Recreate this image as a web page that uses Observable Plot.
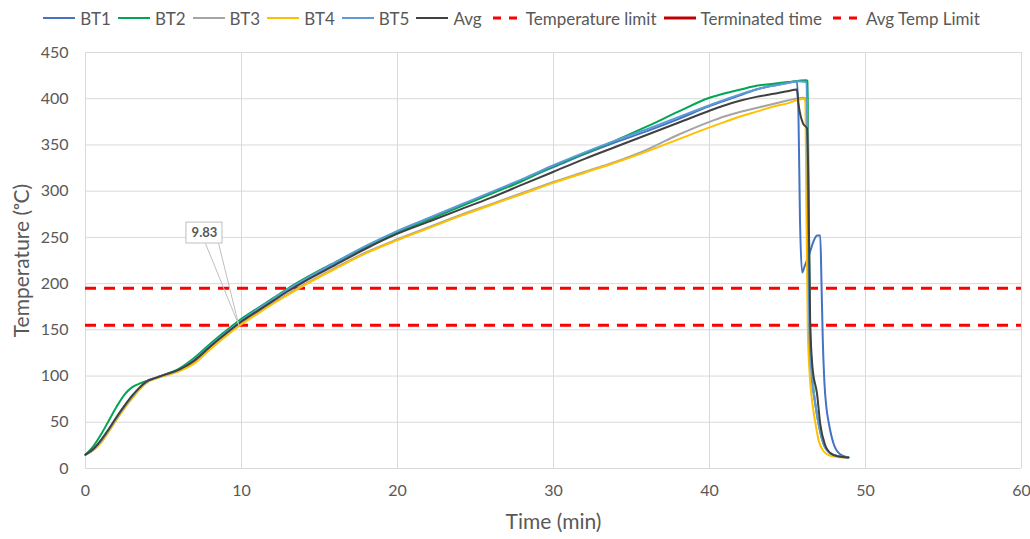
<!DOCTYPE html>
<html>
<head>
<meta charset="utf-8">
<script src="https://cdn.jsdelivr.net/npm/d3@7"></script>
<script src="https://cdn.jsdelivr.net/npm/@observablehq/plot@0.6"></script>
<style>
  html, body { margin: 0; padding: 0; background: #fff; }
  #legend { height: 36px; display: flex; justify-content: center; align-items: center;
            font-family: Lato, "Open Sans", sans-serif; font-size: 17px; color: #595959; }
  .item { display: flex; align-items: center; margin-right: 7px; }
  .item svg { margin-right: 5px; }
</style>
</head>
<body>
<div id="legend"></div>
<div id="chart"></div>
<script>
// ---- data ----
const seriesNames = ["BT1", "BT2", "BT3", "BT4", "BT5", "Avg"];
const seriesColors = ["#4472C4", "#00A651", "#A5A5A5", "#FFC000", "#5B9BD5", "#404040"];

const tRise = [0,0.5,1,1.5,2,2.5,3,3.5,4,4.5,5,6,7,8,9,10,11,12,13,14,16,18,20,22,24,26,28,30,32,34,36,38,40,41,42,43,44,45];

const bt1Rise = [15,20,29,41,54,66,77,87,94,98,101,107,117,132,146,159,171,182,193,203,222,240,256,270,284,298,312,326,340,353,365,378,392,398,404,410,414,417];
const bt2Rise = [15,24,37,52,67,80,88,92,95,98,101,108,120,135,149,162,173,184,195,205,223,240,255,269,283,297,311,327,341,355,370,386,401,406,410,414,416,418];
const bt3Rise = [15,20,29,41,54,66,77,87,94,98,100,106,115,130,144,157,168,179,189,199,217,234,248,261,274,286,298,310,321,332,345,361,375,381,386,390,394,398];
const bt4Rise = [15,20,28,40,53,65,76,86,94,97,100,105,114,129,143,156,167,178,188,198,216,233,247,260,273,285,297,309,320,331,343,356,369,375,381,386,391,395];
const bt5Rise = [15,21,30,42,55,67,78,88,95,98,101,107,118,133,147,160,172,183,194,204,223,241,257,271,285,299,313,328,342,355,367,380,393,399,405,410,414,417];
const avgRise = [15,21,31,43,56,68,79,88,95,98,101,107,117,132,146,159,170,181,192,202,220,238,254,267,280,293,307,321,335,348,361,374,387,393,398,402,405,408];

const bt1TailT = [45.6,45.7,45.8,45.94,46.1,46.4,46.7,46.9,47.1,47.18,47.26,47.36,47.5,47.65,47.95,48.4,48.9];
const bt1TailV = [419,385,270,212,219,232,247,252,252,200,140,95,65,49,27,15,12];
const bt2TailT = [46.2,46.28,46.35,46.45,46.6,46.8,47.0,47.3,47.7,48.3,48.9];
const bt2TailV = [420,419,300,150,100,68,48,27,17,13,12];
const bt3TailT = [46.0,46.25,46.33,46.43,46.58,46.8,47.0,47.3,47.7,48.3,48.9];
const bt3TailV = [401,399,300,150,100,68,47,27,17,13,12];
const bt4TailT = [46.05,46.15,46.2,46.3,46.45,46.6,46.8,47.0,47.3,47.7,48.2,48.6];
const bt4TailV = [400,396,300,150,95,70,48,30,19,14,12.5,12];
const bt5TailT = [45.6,46.22,46.3,46.4,46.55,46.8,47.0,47.3,47.7,48.3,48.9];
const bt5TailV = [419,418,300,150,100,68,48,27,17,13,12];
const avgTailT = [45.6,45.7,46.0,46.25,46.32,46.45,46.6,46.9,47.1,47.4,47.8,48.3,48.9];
const avgTailV = [410,395,373,368,330,160,110,80,48,26,16,13,12];

const temperatureLimit = [195];
const avgTempLimit = [155];

const calloutText = "9.83";
const calloutPoint = {t: 9.83, v: 155};
const calloutBox = {t1: 6.47, t2: 8.78, v1: 243.4, v2: 266};
const calloutStem = [7.69, 8.53];

const xTicks = [0,10,20,30,40,50,60];
const yTicks = [0,50,100,150,200,250,300,350,400,450];

// ---- build rows ----
const rises = [bt1Rise, bt2Rise, bt3Rise, bt4Rise, bt5Rise, avgRise];
const tailsT = [bt1TailT, bt2TailT, bt3TailT, bt4TailT, bt5TailT, avgTailT];
const tailsV = [bt1TailV, bt2TailV, bt3TailV, bt4TailV, bt5TailV, avgTailV];
const seriesRows = seriesNames.map((name, i) => {
  const rows = tRise.map((t, j) => ({t, v: rises[i][j]}));
  tailsT[i].forEach((t, j) => rows.push({t, v: tailsV[i][j]}));
  return rows;
});

// ---- legend ----
const legendItems = [
  ...seriesNames.map((n, i) => ({label: n, color: seriesColors[i], dash: null, w: 2})),
  {label: "Temperature limit", color: "#FF0000", dash: "8,8", w: 3},
  {label: "Terminated time", color: "#C00000", dash: null, w: 3},
  {label: "Avg Temp Limit", color: "#FF0000", dash: "8,8", w: 3}
];
const legend = document.getElementById("legend");
legendItems.forEach(it => {
  const d = document.createElement("div");
  d.className = "item";
  d.innerHTML = `<svg width="32" height="6"><line x1="${it.dash ? 4 : 0}" x2="32" y1="3" y2="3" stroke="${it.color}" stroke-width="${it.w}" ${it.dash ? `stroke-dasharray="${it.dash}"` : ""}/></svg><span>${it.label}</span>`;
  legend.appendChild(d);
});

// ---- chart ----
const lineMarks = seriesRows.map((rows, i) =>
  Plot.line(rows, {x: "t", y: "v", stroke: seriesColors[i], strokeWidth: 2, curve: "monotone-x"})
);

const chart = Plot.plot({
  width: 1030,
  height: 503,
  marginLeft: 85,
  marginRight: 9,
  marginTop: 16,
  marginBottom: 71,
  style: {fontFamily: "Lato, 'Open Sans', sans-serif", fontSize: "16px", color: "#595959", background: "#fff"},
  x: {domain: [0, 60], ticks: xTicks},
  y: {domain: [0, 450], ticks: yTicks},
  marks: [
    Plot.gridX(xTicks, {stroke: "#D9D9D9", strokeOpacity: 1}),
    Plot.gridY(yTicks, {stroke: "#D9D9D9", strokeOpacity: 1}),
    Plot.axisX(xTicks, {tickSize: 0, tickPadding: 16, label: null, fill: "#595959"}),
    Plot.axisY(yTicks, {tickSize: 0, tickPadding: 17, label: null, fill: "#595959"}),
    Plot.text(["Time (min)"], {text: d => d, frameAnchor: "bottom", lineAnchor: "middle", dy: 54, fontSize: 21, fill: "#595959"}),
    Plot.text(["Temperature (ᵒC)"], {text: d => d, frameAnchor: "left", textAnchor: "middle", lineAnchor: "middle", dx: -63, rotate: -90, fontSize: 21, fill: "#595959"}),
    Plot.ruleY(temperatureLimit, {stroke: "#FF0000", strokeWidth: 3, strokeDasharray: "11,8"}),
    Plot.ruleY(avgTempLimit, {stroke: "#FF0000", strokeWidth: 3, strokeDasharray: "11,8"}),
    ...lineMarks,
    Plot.link(calloutStem, {x1: d => d, y1: calloutBox.v1, x2: calloutPoint.t, y2: calloutPoint.v, stroke: "#BFBFBF", strokeWidth: 1}),
    Plot.rect([calloutBox], {x1: "t1", x2: "t2", y1: "v1", y2: "v2", fill: "#fff", stroke: "#BFBFBF", strokeWidth: 1}),
    Plot.text([calloutText], {text: d => d, x: (calloutBox.t1 + calloutBox.t2) / 2, y: (calloutBox.v1 + calloutBox.v2) / 2, fontSize: 13, fontWeight: "bold", fill: "#595959"})
  ]
});
document.getElementById("chart").appendChild(chart);
</script>
</body>
</html>
